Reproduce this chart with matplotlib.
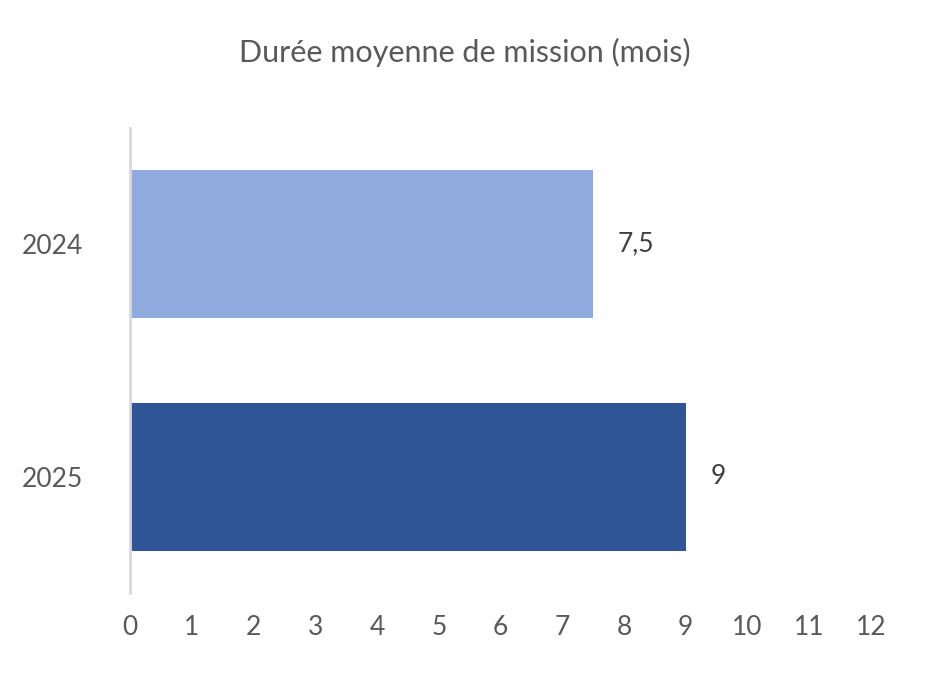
import matplotlib
matplotlib.use("Agg")
import matplotlib.pyplot as plt

categories = ["2024", "2025"]
values = [7.5, 9]
labels = ["7,5", "9"]
colors = ["#8FAADC", "#2F5597"]
xticks = list(range(0, 13))

plt.rcParams['font.family'] = ['Lato', 'DejaVu Sans']
fig = plt.figure(figsize=(9.28, 6.85), dpi=100)
ax = fig.add_axes([130/928, 1-593/685, (871-130)/928, (593-128)/685])
y = list(range(len(categories)))
ax.barh(y, values, height=0.635, color=colors)
for yi, v, l in zip(y, values, labels):
    ax.text(v + 0.4, yi, l, va='center', ha='left', fontsize=19, color='#404040')
ax.set_ylim(1.5, -0.5)
ax.set_xlim(0, 12)
ax.set_yticks(y)
ax.set_yticklabels(categories)
ax.set_xticks(xticks)
ax.tick_params(length=0, labelsize=19, colors='#595959')
ax.tick_params(axis='x', pad=16)
ax.tick_params(axis='y', pad=34)
for s in ['top', 'right', 'bottom']:
    ax.spines[s].set_visible(False)
ax.spines['left'].set_color('#D9D9D9')
ax.spines['left'].set_linewidth(2)
fig.text(465/928, 1-52/685, "Durée moyenne de mission (mois)", ha='center', va='center',
         fontsize=22, color='#595959')
fig.savefig("out.png", dpi=100)
